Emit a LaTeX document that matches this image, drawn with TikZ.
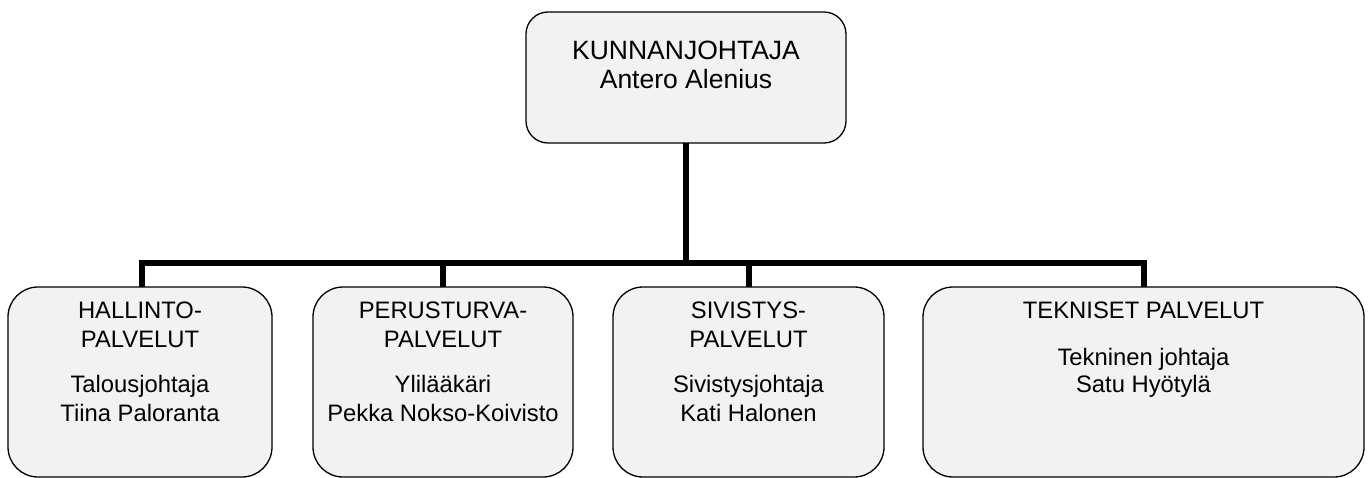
\documentclass[tikz,border=0pt]{standalone}
\usepackage{fontspec}
\setmainfont{Liberation Sans}
\definecolor{boxfill}{HTML}{F2F2F2}
\begin{document}
\begin{tikzpicture}[x=1pt,y=-1pt,
  orgbox/.style={draw=black,line width=1.3pt,fill=boxfill,inner sep=0pt,outer sep=0pt,rounded corners=30pt,minimum height=190pt},
  topbox/.style={draw=black,line width=1.3pt,fill=boxfill,inner sep=0pt,outer sep=0pt,rounded corners=22pt,minimum width=320pt,minimum height=131pt},
  conn/.style={line width=6pt,black},
  toptxt/.style={anchor=base,inner sep=0pt,font=\fontsize{26.5}{30}\selectfont},
  txt/.style={anchor=base,inner sep=0pt,font=\fontsize{23.8}{27}\selectfont}]
\useasboundingbox (0,0) rectangle (1368,478);
\coordinate (busL) at (142,263);
\coordinate (top) at (686,143);
% connectors first
\draw[conn] (686,143) coordinate (ktop) -- (686,263) coordinate (busM);
\draw[conn] (142,287) coordinate (d1) -- (142,263) -- (1144,263) -- (1144,287) coordinate (d4);
\draw[conn] (443,287) coordinate (d2) -- (443,263);
\draw[conn] (749,287) coordinate (d3) -- (749,263);
% boxes
\node[topbox] (k) at (686,77.5) {};
\node[orgbox,minimum width=264pt] (b1) at (140,382) {};
\node[orgbox,minimum width=260pt] (b2) at (443,382) {};
\node[orgbox,minimum width=271pt] (b3) at (748.5,382) {};
\node[orgbox,minimum width=441pt] (b4) at (1143.5,382) {};
% texts
\node[toptxt] (k1) at (686,60) {KUNNANJOHTAJA};
\node[toptxt] (k2) at (686,89) {Antero Alenius};
\node[txt] (a1) at (140,319) {HALLINTO-};
\node[txt] (a2) at (140,347) {PALVELUT};
\node[txt] (a3) at (140,392) {Talousjohtaja};
\node[txt] (a4) at (140,421) {Tiina Paloranta};
\node[txt] (p1) at (443,319) {PERUSTURVA-};
\node[txt] (p2) at (443,347) {PALVELUT};
\node[txt] (p3) at (443,392) {Ylilääkäri};
\node[txt] (p4) at (443,421) {Pekka Nokso-Koivisto};
\node[txt] (s1) at (748.5,319) {SIVISTYS-};
\node[txt] (s2) at (748.5,347) {PALVELUT};
\node[txt] (s3) at (748.5,392) {Sivistysjohtaja};
\node[txt] (s4) at (748.5,421) {Kati Halonen};
\node[txt] (t1) at (1143.5,319) {TEKNISET PALVELUT};
\node[txt] (t2) at (1143.5,365) {Tekninen johtaja};
\node[txt] (t3) at (1143.5,392) {Satu Hyötylä};
\end{tikzpicture}
\end{document}
